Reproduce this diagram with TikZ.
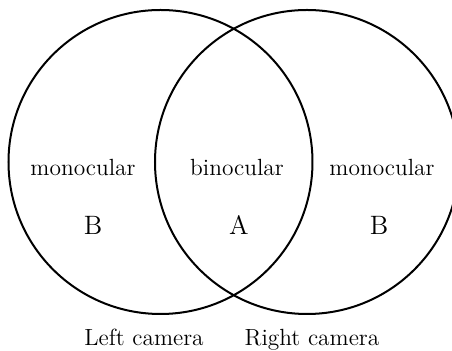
\documentclass[tikz,border=0pt]{standalone}
\begin{document}
\begin{tikzpicture}[x=0.5pt,y=-0.5pt,
  ring/.style={draw=black,line width=1pt},
  lbl/.style={anchor=base,inner sep=0pt,font=\fontsize{11.7}{14}\selectfont},
  big/.style={anchor=base,inner sep=0pt,font=\fontsize{13.3}{16}\selectfont}]
\clip (0,0) rectangle (452,351);
\coordinate (cl) at (160.5,162);
\coordinate (cr) at (307,162);
\draw[ring] (cl) circle[radius=152];
\draw[ring] (cr) circle[radius=152];
\node[lbl] (ml) at (83,176) {monocular};
\node[lbl] (bi) at (237,176) {binocular};
\node[lbl] (mr) at (382,176) {monocular};
\node[big] (bl) at (93,235) {B};
\node[big] (a) at (239,235) {A};
\node[big] (br) at (379,235) {B};
\node[lbl] (lc) at (144,346) {Left camera};
\node[lbl] (rc) at (312,346) {Right camera};
\end{tikzpicture}
\end{document}
